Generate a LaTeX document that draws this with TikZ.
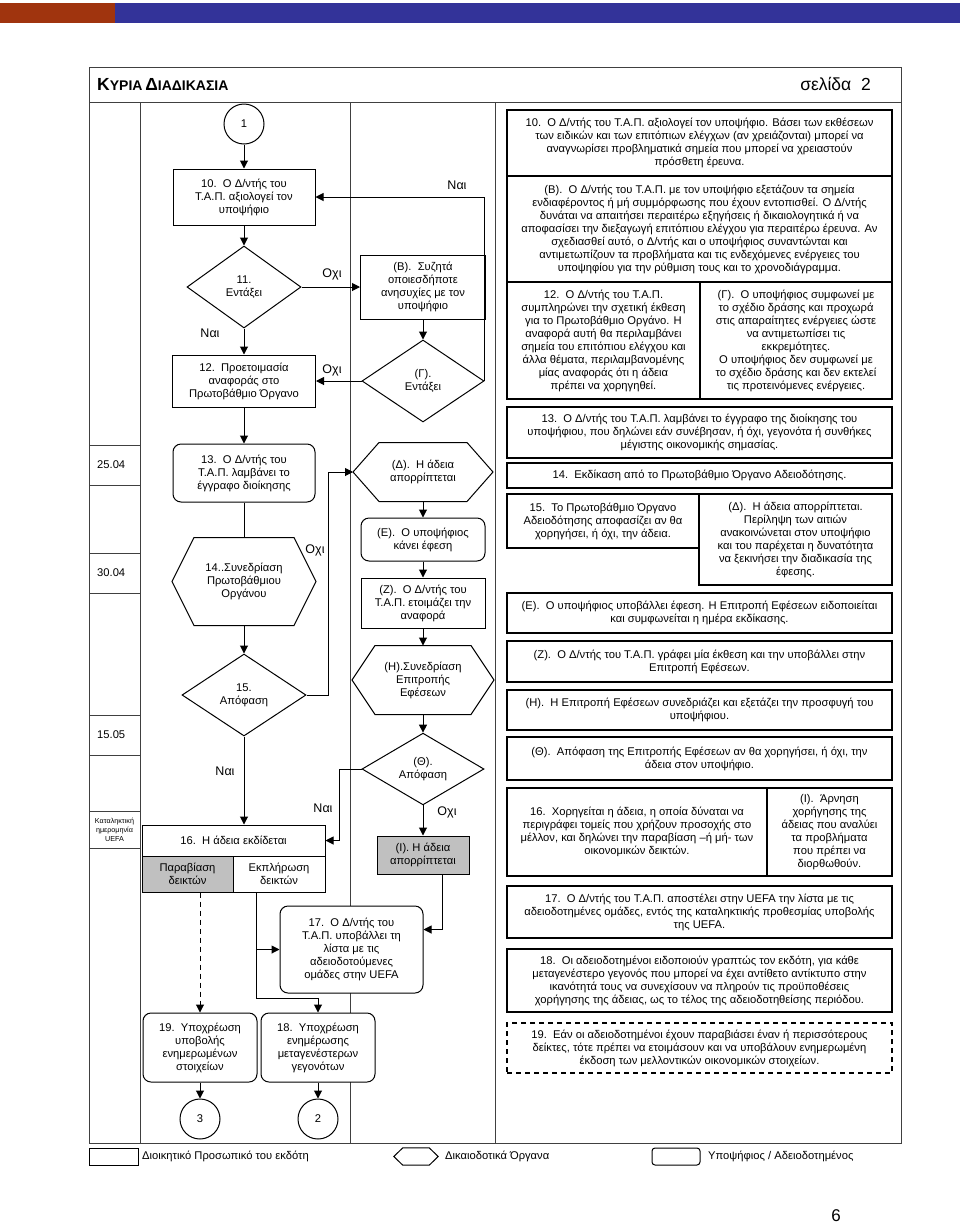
\documentclass[tikz,border=0pt]{standalone}
\usepackage{fontspec}
\setmainfont{Liberation Sans}
\usetikzlibrary{arrows.meta,shapes.geometric,calc}
\newcommand\fs{\fontsize{11.2}{13}\selectfont}
\newcommand\myhex[2]{\draw[ln] (#1.west) -- ([xshift=#2]#1.north west) -- ([xshift=-#2]#1.north east) -- (#1.east) -- ([xshift=-#2]#1.south east) -- ([xshift=#2]#1.south west) -- cycle;}
\definecolor{barred}{RGB}{160,52,14}
\definecolor{barblue}{RGB}{51,51,153}
\definecolor{cellgray}{RGB}{192,192,192}
\tikzset{
 base/.style={font=\fs, align=center, inner sep=1pt, line width=1pt},
 box/.style={base, draw, fill=white},
 rbox/.style={box, rounded corners=8pt},
 txt/.style={base, draw, line width=1.2pt},
 hexn/.style={base},
 dia/.style={base, draw, diamond, inner sep=0pt},
 circ/.style={base, draw, circle, minimum size=40pt},
 lab/.style={font=\fontsize{12.5}{12.5}\selectfont, inner sep=0pt},
 arr/.style={line width=1pt, -{Triangle[length=8pt,width=8pt]}},
 ln/.style={line width=1pt},
 frame/.style={line width=0.8pt, draw=black!75},
 legt/.style={anchor=west, inner sep=0pt, font=\fontsize{11.2}{13}\selectfont},
}
\begin{document}
\begin{tikzpicture}[x=1pt,y=-1pt]
\useasboundingbox (0,0) rectangle (960,1224);
\fill[white] (0,0) rectangle (960,1224);
% top bar
\fill[barred] (0,3) rectangle (115,23);
\fill[barblue] (115,3) rectangle (960,23);
% frame
\draw[frame] (89,67) rectangle (901,1143);
\draw[frame] (89,102) -- (901,102);
\draw[frame] (140,102) -- (140,1143);
\draw[frame] (350,102) -- (350,1143);
\draw[frame] (495,102) -- (495,1143);
\foreach \yy in {445,485,553,593,715,755,811,848} \draw[frame] (89,\yy) -- (140,\yy);
\node[anchor=west, inner sep=0pt, font=\bfseries] (title) at (97,84) {{\fontsize{17.5}{17.5}\selectfont Κ}{\fontsize{14}{14}\selectfont ΥΡΙΑ} {\fontsize{17.5}{17.5}\selectfont Δ}{\fontsize{14}{14}\selectfont ΙΑΔΙΚΑΣΙΑ}};
\node[anchor=east, inner sep=0pt, font=\fontsize{17.5}{17.5}\selectfont] (page) at (871,84) {σελίδα~~2};
% dates
\node[anchor=west, inner sep=0pt, font=\fs] (dt1) at (97,465) {25.04};
\node[anchor=west, inner sep=0pt, font=\fs] (dt2) at (97,573) {30.04};
\node[anchor=west, inner sep=0pt, font=\fs] (dt3) at (97,735) {15.05};
\node[align=center, inner sep=0pt, font=\fontsize{7.2}{8.7}\selectfont] (dt4) at (114.5,830) {Καταληκτική\\ημερομηνία\\UEFA};

% flow column
\node[circ] (c1) at (244,124) {1};
\node[box, minimum width=142pt, minimum height=56pt] (n10) at (244,197) {10.~~Ο Δ/ντής του\\Τ.Α.Π. αξιολογεί τον\\υποψήφιο};
\node[dia, minimum width=114pt, minimum height=82pt] (d11) at (244,287) {11.\\Εντάξει};
\node[box, minimum width=143pt, minimum height=52pt] (n12) at (244,381) {12.~~Προετοιμασία\\αναφοράς στο\\Πρωτοβάθμιο Όργανο};
\node[rbox, minimum width=142pt, minimum height=58pt] (n13) at (244,473) {13.~~Ο Δ/ντής του\\Τ.Α.Π. λαμβάνει το\\έγγραφο διοίκησης};
\node[hexn, minimum width=143pt, minimum height=87pt] (h14) at (244,581.5) {14..Συνεδρίαση\\Πρωτοβάθμιου\\Οργάνου};
\myhex{h14}{22pt}
\node[dia, minimum width=124pt, minimum height=82pt] (d15) at (244,695) {15.\\Απόφαση};
\node[box, minimum width=183pt, minimum height=31pt] (n16) at (233.5,840.5) {16.~~Η άδεια εκδίδεται};
\node[box, fill=cellgray, minimum width=91pt, minimum height=36pt] (nP) at (187.5,874) {Παραβίαση\\δεικτών};
\node[box, minimum width=92pt, minimum height=36pt] (nEk) at (279,874) {Εκπλήρωση\\δεικτών};
\node[rbox, minimum width=114pt, minimum height=69pt] (n19) at (200,1047.5) {19.~~Υποχρέωση\\υποβολής\\ενημερωμένων\\στοιχείων};
\node[rbox, minimum width=114pt, minimum height=69pt] (n18) at (318,1047.5) {18.~~Υποχρέωση\\ενημέρωσης\\μεταγενέστερων\\γεγονότων};
\node[circ] (c3) at (200,1119) {3};
\node[circ] (c2) at (318,1119) {2};

% middle column
\node[box, minimum width=125pt, minimum height=64pt] (nB) at (423,287) {(Β).~~Συζητά\\οποιεσδήποτε\\ανησυχίες με τον\\υποψήφιο};
\node[dia, minimum width=122pt, minimum height=82pt] (dG) at (423,381) {(Γ).\\Εντάξει};
\node[hexn, minimum width=139pt, minimum height=58pt] (hD) at (423,472) {(Δ).~~Η άδεια\\απορρίπτεται};
\myhex{hD}{26pt}
\node[rbox, minimum width=124pt, minimum height=43pt] (nE) at (423,539.5) {(Ε).~~Ο υποψήφιος\\κάνει έφεση};
\node[box, minimum width=124pt, minimum height=50pt] (nZ) at (423,603) {(Ζ).~~Ο Δ/ντής του\\Τ.Α.Π. ετοιμάζει την\\αναφορά};
\node[hexn, minimum width=141pt, minimum height=68pt] (hH) at (423,680) {(Η).Συνεδρίαση\\Επιτροπής\\Εφέσεων};
\myhex{hH}{23pt}
\node[dia, minimum width=122pt, minimum height=64pt] (dTh) at (423,769) {(Θ).\\Απόφαση};
\node[box, fill=cellgray, minimum width=92pt, minimum height=38pt] (nI) at (423,855) {(Ι). Η άδεια\\απορρίπτεται};
\node[rbox, minimum width=143pt, minimum height=87pt] (n17) at (351.5,949.5) {17.~~Ο Δ/ντής του\\Τ.Α.Π. υποβάλλει τη\\λίστα με τις\\αδειοδοτούμενες\\ομάδες στην UEFA};

% connectors
\draw[arr] (c1) -- (n10);
\draw[arr] (n10) -- (d11);
\draw[arr] (d11) -- (n12);
\draw[arr] (d11.east) -- (nB.west);
\draw[arr] (nB) -- (dG);
\draw[arr] (dG.east) |- (n10.east);
\draw[arr] (dG.west) -- (n12.east);
\draw[arr] (n12) -- (n13);
\draw[ln] (n13.south) -- (h14.north);
\draw[arr] (h14.south) -- (d15.north);
\draw[arr] (d15.east) -- ++(22,0) |- (hD.west);
\draw[arr] (d15.south) -- (d15.south |- n16.north);
\draw[arr] (hD.south) -- (nE.north);
\draw[arr] (nE) -- (nZ);
\draw[arr] (nZ) -- (hH.north);
\draw[arr] (hH.south) -- (dTh.north);
\draw[arr] (dTh) -- (nI);
\draw[arr] (dTh.west) -- ++(-22,0) |- (n16.east);
\draw[arr] ([xshift=19pt]nI.south) |- ([yshift=20pt]n17.east);
\draw[arr, dashed, dash pattern=on 5pt off 4pt] (n19.north |- nP.south) -- (n19.north);
\coordinate (j1) at (256,998);
\draw[ln] (nEk.south -| j1) -- (j1);
\draw[arr] (j1) -| (n18.north);
\draw[arr] (j1 |- n17.west) -- (n17.west);
\draw[arr] (n19) -- (c3);
\draw[arr] (n18) -- (c2);

% labels
\node[lab] (l1) at (457,185) {Ναι};
\node[lab] (l2) at (332,274) {Οχι};
\node[lab] (l3) at (210,333) {Ναι};
\node[lab] (l4) at (332,370) {Οχι};
\node[lab] (l5) at (315,550) {Οχι};
\node[lab] (l6) at (225,771) {Ναι};
\node[lab] (l7) at (323,808) {Ναι};
\node[lab] (l8) at (447,812) {Οχι};

% right text column
\node[txt, minimum width=385pt, minimum height=66pt] (t10) at (699.5,143) {10.~~Ο Δ/ντής του Τ.Α.Π. αξιολογεί τον υποψήφιο. Βάσει των εκθέσεων\\των ειδικών και των επιτόπιων ελέγχων (αν χρειάζονται) μπορεί να\\αναγνωρίσει προβληματικά σημεία που μπορεί να χρειαστούν\\πρόσθετη έρευνα.};
\node[txt, minimum width=385pt, minimum height=106pt] (tB) at (699.5,229) {(Β).~~Ο Δ/ντής του Τ.Α.Π. με τον υποψήφιο εξετάζουν τα σημεία\\ενδιαφέροντος ή μή συμμόρφωσης που έχουν εντοπισθεί. Ο Δ/ντής\\δυνάται να απαιτήσει περαιτέρω εξηγήσεις ή δικαιολογητικά ή να\\αποφασίσει την διεξαγωγή επιτόπιου ελέγχου για περαιτέρω έρευνα. Αν\\σχεδιασθεί αυτό, ο Δ/ντής και ο υποψήφιος συναντώνται και\\αντιμετωπίζουν τα προβλήματα και τις ενδεχόμενες ενέργειες του\\υποψηφίου για την ρύθμιση τους και το χρονοδιάγραμμα.};
\node[txt, minimum width=193pt, minimum height=117pt] (t12) at (603.5,340.5) {12.~~Ο Δ/ντής του Τ.Α.Π.\\συμπληρώνει την σχετική έκθεση\\για το Πρωτοβάθμιο Οργάνο. Η\\αναφορά αυτή θα περιλαμβάνει\\σημεία του επιτόπιου ελέγχου και\\άλλα θέματα, περιλαμβανομένης\\μίας αναφοράς ότι η άδεια\\πρέπει να χορηγηθεί.};
\node[txt, minimum width=192pt, minimum height=117pt] (tG) at (796,340.5) {(Γ).~~Ο υποψήφιος συμφωνεί με\\το σχέδιο δράσης και προχωρά\\στις απαραίτητες ενέργειες ώστε\\να αντιμετωπίσει τις\\εκκρεμότητες.\\Ο υποψήφιος δεν συμφωνεί με\\το σχέδιο δράσης και δεν εκτελεί\\τις προτεινόμενες ενέργειες.};
\node[txt, minimum width=385pt, minimum height=51pt] (t13) at (699.5,432.5) {13.~~Ο Δ/ντής του Τ.Α.Π. λαμβάνει το έγγραφο της διοίκησης του\\υποψήφιου, που δηλώνει εάν συνέβησαν, ή όχι, γεγονότα ή συνθήκες\\μέγιστης οικονομικής σημασίας.};
\node[txt, minimum width=385pt, minimum height=25pt] (t14) at (699.5,475.5) {14.~~Εκδίκαση από το Πρωτοβάθμιο Όργανο Αδειοδότησης.};
\node[txt, minimum width=192pt, minimum height=54pt] (t15) at (603,521) {15.~~Το Πρωτοβάθμιο Όργανο\\Αδειοδότησης αποφασίζει αν θα\\χορηγήσει, ή όχι, την άδεια.};
\node[txt, minimum width=193pt, minimum height=91pt] (tD) at (795.5,539.5) {(Δ).~~Η άδεια απορρίπτεται.\\Περίληψη των αιτιών\\ανακοινώνεται στον υποψήφιο\\και του παρέχεται η δυνατότητα\\να ξεκινήσει την διαδικασία της\\έφεσης.};
\node[txt, minimum width=385pt, minimum height=40pt] (tE) at (699.5,613) {(Ε).~~Ο υποψήφιος υποβάλλει έφεση. Η Επιτροπή Εφέσεων ειδοποιείται\\και συμφωνείται η ημέρα εκδίκασης.};
\node[txt, minimum width=385pt, minimum height=41pt] (tZ) at (699.5,661.5) {(Ζ).~~Ο Δ/ντής του Τ.Α.Π. γράφει μία έκθεση και την υποβάλλει στην\\Επιτροπή Εφέσεων.};
\node[txt, minimum width=385pt, minimum height=40pt] (tH) at (699.5,710) {(Η).~~Η Επιτροπή Εφέσεων συνεδριάζει και εξετάζει την προσφυγή του\\υποψήφιου.};
\node[txt, minimum width=385pt, minimum height=43pt] (tTh) at (699.5,758.5) {(Θ).~~Απόφαση της Επιτροπής Εφέσεων αν θα χορηγήσει, ή όχι, την\\άδεια στον υποψήφιο.};
\node[txt, minimum width=260pt, minimum height=88pt] (t16) at (637,832) {16.~~Χορηγείται η άδεια, η οποία δύναται να\\περιγράφει τομείς που χρήζουν προσοχής στο\\μέλλον, και δηλώνει την παραβίαση –ή μή- των\\οικονομικών δεικτών.};
\node[txt, minimum width=125pt, minimum height=88pt] (tI) at (829.5,832) {(Ι).~~Άρνηση\\χορήγησης της\\άδειας που αναλύει\\τα προβλήματα\\που πρέπει να\\διορθωθούν.};
\node[txt, minimum width=385pt, minimum height=52pt] (t17) at (699.5,912) {17.~~Ο Δ/ντής του Τ.Α.Π. αποστέλει στην UEFA την λίστα με τις\\αδειοδοτημένες ομάδες, εντός της καταληκτικής προθεσμίας υποβολής\\της UEFA.};
\node[txt, minimum width=385pt, minimum height=63pt] (t18) at (699.5,980.5) {18.~~Οι αδειοδοτημένοι ειδοποιούν γραπτώς τον εκδότη, για κάθε\\μεταγενέστερο γεγονός που μπορεί να έχει αντίθετο αντίκτυπο στην\\ικανότητά τους να συνεχίσουν να πληρούν τις προϋποθέσεις\\χορήγησης της άδειας, ως το τέλος της αδειοδοτηθείσης περιόδου.};
\node[txt, dashed, dash pattern=on 5pt off 4pt, minimum width=385pt, minimum height=50pt] (t19) at (699.5,1048) {19.~~Εάν οι αδειοδοτημένοι έχουν παραβιάσει έναν ή περισσότερους\\δείκτες, τότε πρέπει να ετοιμάσουν και να υποβάλουν ενημερωμένη\\έκδοση των μελλοντικών οικονομικών στοιχείων.};

% legend
\node[draw, line width=1pt, minimum width=49pt, minimum height=17pt, inner sep=0pt] (lg1) at (113.5,1156.5) {};
\node[legt] (lt1) at (142,1156.5) {Διοικητικό Προσωπικό του εκδότη};
\node[minimum width=44pt, minimum height=17pt, inner sep=0pt] (lg2) at (416,1156.5) {};
\myhex{lg2}{9pt}
\node[legt] (lt2) at (445,1156.5) {Δικαιοδοτικά Όργανα};
\node[draw, line width=1pt, rounded corners=3pt, minimum width=48pt, minimum height=17pt, inner sep=0pt] (lg3) at (676,1156.5) {};
\node[legt] (lt3) at (708,1156.5) {Υποψήφιος / Αδειοδοτημένος};
\node[inner sep=0pt, font=\fontsize{17}{17}\selectfont] (pg) at (836,1216) {6};
\end{tikzpicture}
\end{document}
